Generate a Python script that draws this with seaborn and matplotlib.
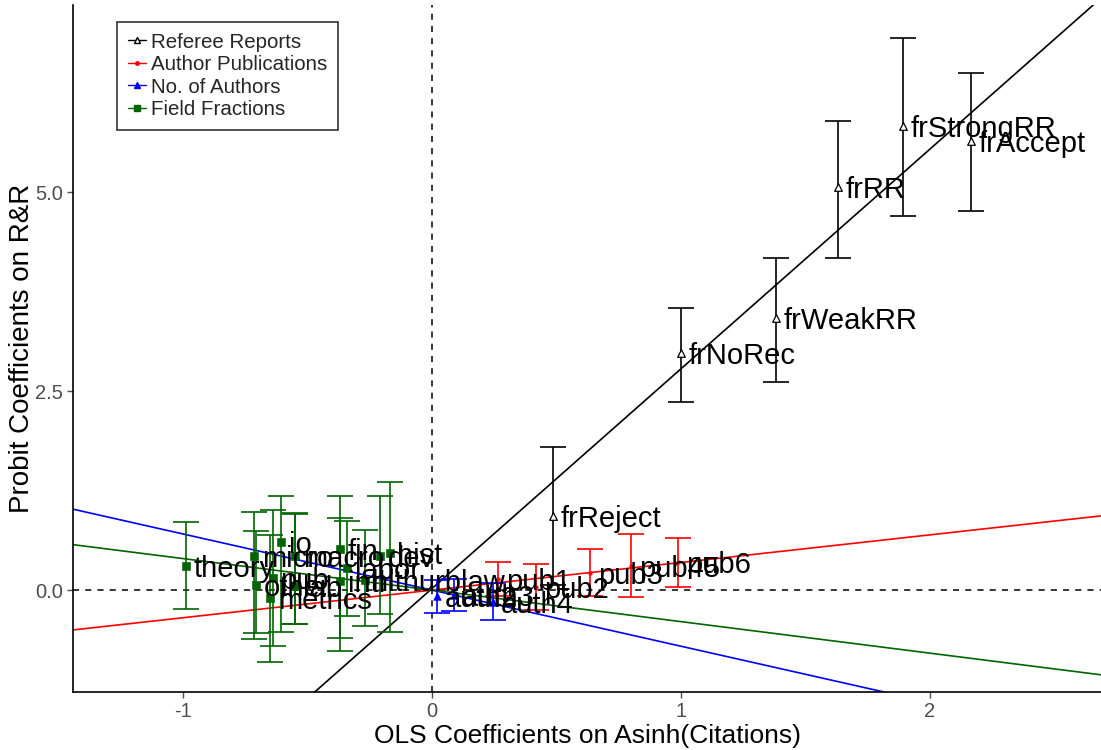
import numpy as np
import pandas as pd
import matplotlib
matplotlib.use("Agg")
import matplotlib.pyplot as plt
import seaborn as sns
from matplotlib.lines import Line2D

# ---------------- data ----------------
ref_labels = ["frReject", "frNoRec", "frWeakRR", "frRR", "frStrongRR", "frAccept"]
ref_x = [0.486, 1.000, 1.381, 1.631, 1.892, 2.165]
ref_y = [0.93, 2.98, 3.42, 5.06, 5.83, 5.64]
ref_lo = [0.06, 2.36, 2.61, 4.17, 4.70, 4.76]
ref_hi = [1.80, 3.54, 4.17, 5.89, 6.93, 6.49]

pub_labels = ["pub1", "pub2", "pub3", "pub45", "pub6"]
pub_x = [0.265, 0.418, 0.635, 0.800, 0.990]
pub_y = [0.14, 0.04, 0.21, 0.30, 0.35]
pub_lo = [-0.07, -0.25, -0.08, -0.09, 0.04]
pub_hi = [0.35, 0.33, 0.52, 0.70, 0.65]

auth_labels = ["auth2", "auth3", "auth4"]
auth_x = [0.02, 0.09, 0.245]
auth_y = [-0.08, -0.06, -0.145]
auth_lo = [-0.29, -0.26, -0.38]
auth_hi = [0.13, 0.14, 0.09]

field_labels = ["theory", "micro", "other", "io", "metrics", "pub", "macro", "lab",
                "fin", "intl", "labor", "dev", "hist", "hlthurblaw"]
field_x = [-0.99, -0.715, -0.707, -0.606, -0.65, -0.64, -0.55, -0.55,
           -0.37, -0.37, -0.34, -0.21, -0.17, -0.27]
field_y = [0.30, 0.43, 0.06, 0.60, -0.10, 0.15, 0.43, 0.05,
           0.52, 0.12, 0.28, 0.43, 0.47, 0.13]
field_lo = [-0.24, -0.62, -0.54, -0.53, -0.90, -0.70, -0.43, -0.42,
            -0.77, -0.60, -0.33, -0.30, -0.53, -0.45]
field_hi = [0.85, 0.98, 0.74, 1.18, 0.69, 1.00, 0.95, 0.97,
            1.18, 0.90, 0.87, 1.18, 1.36, 0.75]

# fitted lines (intercept, slope)
fit_intercept = {"Referee Reports": 0.02, "Author Publications": 0.0,
                 "No. of Authors": 0.0, "Field Fractions": 0.0}
fit_slope = {"Referee Reports": 2.76, "Author Publications": 0.347,
             "No. of Authors": -0.705, "Field Fractions": -0.396}

groups = ["Referee Reports", "Author Publications", "No. of Authors", "Field Fractions"]
colors = {"Referee Reports": "black", "Author Publications": "#FF0000",
          "No. of Authors": "#0000FF", "Field Fractions": "#006400"}
markers = {"Referee Reports": "^", "Author Publications": "o",
           "No. of Authors": "^", "Field Fractions": "s"}

frames = []
for g, lab, x, y, lo, hi in [
    ("Referee Reports", ref_labels, ref_x, ref_y, ref_lo, ref_hi),
    ("Author Publications", pub_labels, pub_x, pub_y, pub_lo, pub_hi),
    ("No. of Authors", auth_labels, auth_x, auth_y, auth_lo, auth_hi),
    ("Field Fractions", field_labels, field_x, field_y, field_lo, field_hi),
]:
    frames.append(pd.DataFrame({"group": g, "label": lab, "x": x, "y": y, "lo": lo, "hi": hi}))
df = pd.concat(frames, ignore_index=True)

# ---------------- plot ----------------
sns.set_theme(style="white")
plt.rcParams["font.family"] = ["Liberation Sans", "DejaVu Sans"]

fig = plt.figure(figsize=(11.01, 7.5), dpi=100)
ax = fig.add_axes([73 / 1101, 58 / 750, 1 - 73 / 1101, (692 - 5) / 750])

ax.set_xlim(-1.442, 2.687)
ax.set_ylim(-1.28, 7.35)

ax.axhline(0, color="black", lw=1.1, ls=(0, (4, 4)), zorder=1)
ax.axvline(0, color="black", lw=1.1, ls=(0, (4, 4)), zorder=1)

for g in groups:
    sub = df[df.group == g]
    c = colors[g]
    ax.axline((0, fit_intercept[g]), slope=fit_slope[g], color=c, lw=1.2, zorder=2)
    ax.errorbar(sub.x, sub.y, yerr=[sub.y - sub.lo, sub.hi - sub.y], fmt="none",
                ecolor=c, elinewidth=1.2, capsize=9.5, capthick=1.2, zorder=3)

for g in groups:
    sub = df[df.group == g]
    c = colors[g]
    if g == "Referee Reports":
        sns.scatterplot(data=sub, x="x", y="y", ax=ax, marker="^", s=30,
                        facecolor="white", edgecolor="black", linewidth=0.9, zorder=4)
    elif g == "Author Publications":
        sns.scatterplot(data=sub, x="x", y="y", ax=ax, marker="o", s=8,
                        color=c, edgecolor=c, zorder=4)
    else:
        sns.scatterplot(data=sub, x="x", y="y", ax=ax, marker=markers[g], s=30,
                        color=c, edgecolor=c, zorder=4)

for _, r in df.iterrows():
    ax.annotate(r.label, (r.x, r.y), xytext=(5.5, 0), textcoords="offset points",
                ha="left", va="center_baseline", fontsize=21, color="black", zorder=5)

# legend
handles = [
    Line2D([0], [0], color="black", lw=1, marker="^", markersize=5,
           markerfacecolor="white", markeredgecolor="black"),
    Line2D([0], [0], color="#FF0000", lw=1, marker="o", markersize=2.5),
    Line2D([0], [0], color="#0000FF", lw=1, marker="^", markersize=5),
    Line2D([0], [0], color="#006400", lw=1, marker="s", markersize=4.5),
]
leg = ax.legend(handles, groups, loc="upper left", bbox_to_anchor=(0.0428, 0.9753),
                fontsize=14.8, frameon=True, fancybox=False, handlelength=0.9,
                handletextpad=0.25, labelspacing=0.17, borderpad=0.52,
                borderaxespad=0)
leg.get_frame().set_edgecolor("black")
leg.get_frame().set_linewidth(1.2)

ax.set_xticks([-1, 0, 1, 2])
ax.set_xticklabels(["-1", "0", "1", "2"])
ax.set_yticks([0, 2.5, 5.0])
ax.set_yticklabels(["0.0", "2.5", "5.0"])
ax.tick_params(axis="both", labelsize=14.5, colors="#4D4D4D", length=4, width=1,
               direction="out", left=True, bottom=True, pad=3)
ax.set_xlabel("OLS Coefficients on Asinh(Citations)", fontsize=19, color="black", labelpad=2)
ax.set_ylabel("Probit Coefficients on R&R", fontsize=20, color="black", labelpad=0)

for s in ["top", "right"]:
    ax.spines[s].set_visible(False)
for s in ["left", "bottom"]:
    ax.spines[s].set_color("black")
    ax.spines[s].set_linewidth(1.2)

fig.savefig("out.png", dpi=100)
